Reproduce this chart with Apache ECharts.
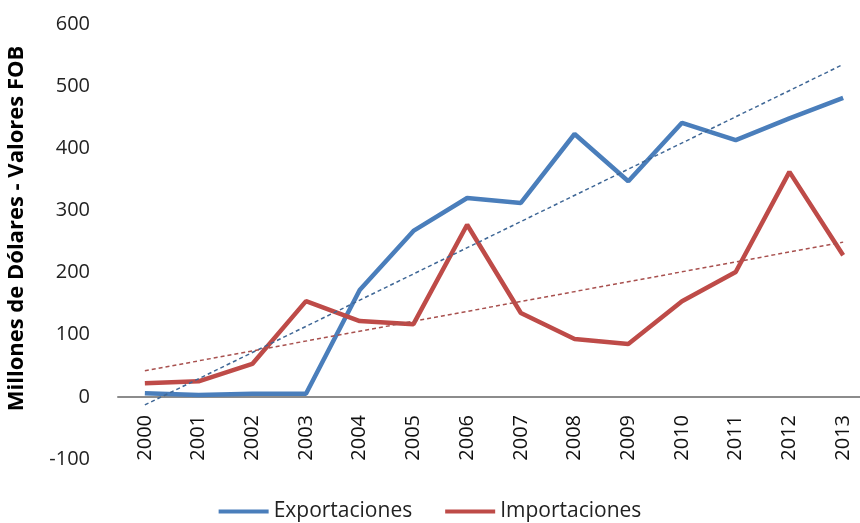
<!DOCTYPE html>
<html>
<head>
<meta charset="utf-8">
<script src="https://cdn.jsdelivr.net/npm/echarts@6/dist/echarts.min.js"></script>
<style>
  html, body { margin: 0; padding: 0; background: #fff; }
  #chart { width: 860px; height: 523px; }
</style>
</head>
<body>
<div id="chart"></div>
<script>
// años del eje x
const years = ["2000", "2001", "2002", "2003", "2004", "2005", "2006",
  "2007", "2008", "2009", "2010", "2011", "2012", "2013"];
// millones de dólares FOB
const exportaciones = [6, 3, 5, 5, 172, 267, 320, 312, 423, 347, 441, 413, 448, 481];
const importaciones = [22, 25, 53, 154, 122, 117, 277, 135, 93, 85, 154, 201, 362, 228];
// líneas de tendencia: solo los extremos (2000 y 2013)
const tendExport = [-13, null, null, null, null, null, null, null, null, null, null, null, null, 535];
const tendImport = [42, null, null, null, null, null, null, null, null, null, null, null, null, 249];

let myChart = echarts.init(document.getElementById("chart"));
myChart.setOption({
  animation: false,
  textStyle: { fontFamily: "Open Sans" },
  legend: {
    data: ["Exportaciones", "Importaciones"],
    bottom: -4,
    left: "center",
    itemWidth: 50,
    itemHeight: 4,
    itemGap: 33,
    icon: "rect",
    textStyle: { fontSize: 21, color: "#222" },
  },
  grid: {
    left: 118,
    right: -10,
    top: 24,
    bottom: 64,
    outerBoundsMode: "none",
  },
  xAxis: {
    type: "category",
    data: years,
    boundaryGap: true,
    offset: -62, // el eje cruza en 0
    axisLine: { onZero: false, lineStyle: { color: "#8c8c8c", width: 2 } },
    axisTick: { show: false },
    axisLabel: { rotate: 90, fontSize: 20, color: "#111", margin: 18 },
  },
  yAxis: {
    type: "value",
    min: -100,
    max: 600,
    interval: 100,
    name: "Millones de Dólares - Valores FOB",
    nameLocation: "middle",
    nameGap: 90,
    nameTextStyle: { fontSize: 22, fontWeight: "bold", color: "#000", padding: [0, 0, 0, 26] },
    axisLine: { show: false },
    axisTick: { show: false },
    splitLine: { show: false },
    axisLabel: { fontSize: 20, color: "#222", margin: 28 },
  },
  series: [
    {
      name: "Exportaciones",
      type: "line",
      data: exportaciones,
      showSymbol: false,
      lineStyle: { color: "#4a7ebb", width: 4.5 },
      itemStyle: { color: "#4a7ebb" },
      z: 3,
    },
    {
      name: "Importaciones",
      type: "line",
      data: importaciones,
      showSymbol: false,
      lineStyle: { color: "#be4b48", width: 4.5 },
      itemStyle: { color: "#be4b48" },
      z: 3,
    },
    {
      name: "Tendencia Exportaciones",
      type: "line",
      data: tendExport,
      connectNulls: true,
      showSymbol: false,
      lineStyle: { color: "#3f6796", width: 1.5, type: [4, 3] },
      z: 4,
    },
    {
      name: "Tendencia Importaciones",
      type: "line",
      data: tendImport,
      connectNulls: true,
      showSymbol: false,
      lineStyle: { color: "#a8504e", width: 1.5, type: [4, 3] },
      z: 4,
    },
  ],
});
</script>
</body>
</html>
